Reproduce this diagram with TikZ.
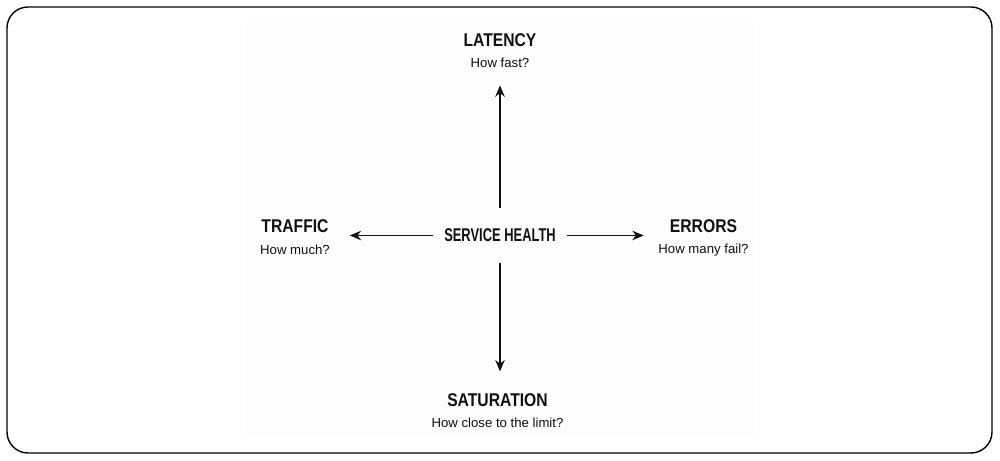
\documentclass[tikz,border=0pt]{standalone}
\usepackage{fontspec}
\setmainfont{Liberation Sans}
\newfontfamily\titlefont{Liberation Sans}[FakeStretch=0.85]
\newfontfamily\hubfont{Liberation Sans}[FakeStretch=0.70]
\usetikzlibrary{arrows.meta,positioning}
\definecolor{ink}{HTML}{111111}

\begin{document}
\begin{tikzpicture}[
        >={Stealth[length=6.5pt,width=5.4pt]},
        title/.style={anchor=base, text=ink, font=\titlefont\bfseries\fontsize{10.5}{12}\selectfont},
        sub/.style={anchor=base, text=ink, font=\fontsize{7.5}{9}\selectfont},
        hub/.style={text=ink, inner xsep=0.22cm, inner ysep=0.42cm, font=\hubfont\bfseries\fontsize{10.5}{12}\selectfont},
        spoke/.style={->, line width=0.8pt, ink}
        ]

    \useasboundingbox (0,0) rectangle (20,-9.22);
    \fill[black!0.7] (4.9,-0.44) rectangle (15.1,-8.7);
    \draw[line width=0.8pt, rounded corners=0.42cm] (0.14,-0.14) rectangle (19.84,-9.06);

    % centre
    \node[hub] (health) at (10,-4.71) {SERVICE HEALTH};

    % four signals
    \node[title] (latency) at (10,-0.94) {LATENCY};
    \node[sub] (latencyq) at ([yshift=-0.42cm]latency.base) {How fast?};

    \node[title] (traffic) at (5.9,-4.66) {TRAFFIC};
    \node[sub] (trafficq) at ([yshift=-0.44cm]traffic.base) {How much?};

    \node[title] (errors) at (14.07,-4.66) {ERRORS};
    \node[sub] (errorsq) at ([yshift=-0.42cm]errors.base) {How many fail?};

    \node[title] (saturation) at (9.95,-8.13) {SATURATION};
    \node[sub] (saturationq) at ([yshift=-0.43cm]saturation.base) {How close to the limit?};

    \draw[spoke, shorten >=0.22cm] (health.north) -- (latencyq.south);
    \draw[spoke, shorten >=0.32cm] (health.south) -- (health.south |- saturation.north);
    \draw[spoke, shorten >=0.30cm] (health.west) -- (health.west -| traffic.east);
    \draw[spoke, shorten >=0.40cm] (health.east) -- (health.east -| errors.west);
\end{tikzpicture}
\end{document}
